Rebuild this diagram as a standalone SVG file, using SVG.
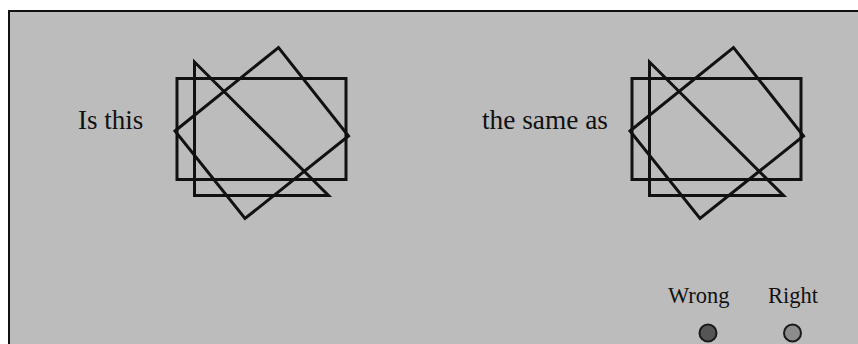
<svg xmlns="http://www.w3.org/2000/svg" width="858" height="344" viewBox="0 0 858 344">
<style>
.shape{fill:none;stroke:#111;stroke-width:3;stroke-linejoin:miter}
.lbl{font-family:"Liberation Serif","Times New Roman",serif;fill:#111}
.big{font-size:27px}
.small{font-size:22.5px}
.btn{stroke:#1a1a1a;stroke-width:2}
</style>
<rect x="0" y="0" width="858" height="344" fill="#ffffff"/>
<rect x="9" y="11" width="849" height="333" fill="#bcbcbc"/>
<path d="M9 344 V11 H858" fill="none" stroke="#111" stroke-width="2"/>
<g id="fig-left">
<rect class="shape" x="177" y="78.5" width="169" height="101"/>
<polygon class="shape" points="194.5,62 194.5,195.5 328.5,195.5"/>
<polygon class="shape" points="175,131 278.5,47.5 348.5,136 245,218.5"/>
</g>
<g id="fig-right">
<rect class="shape" x="632" y="78.5" width="169" height="101"/>
<polygon class="shape" points="649.5,62 649.5,195.5 783.5,195.5"/>
<polygon class="shape" points="630,131 733.5,47.5 803.5,136 700,218.5"/>
</g>
<g id="text-is-this"><text class="lbl big" x="78" y="129">Is this</text></g>
<g id="text-same-as"><text class="lbl big" x="482" y="129" textLength="126" lengthAdjust="spacingAndGlyphs">the same as</text></g>
<g id="btn-wrong">
<text class="lbl small" x="668" y="303">Wrong</text>
<circle class="btn" cx="708" cy="333" r="8.5" fill="#555555"/>
</g>
<g id="btn-right">
<text class="lbl small" x="768" y="303">Right</text>
<circle class="btn" cx="792.5" cy="333" r="8.5" fill="#8c8c8c"/>
</g>
<g id="connectors"/>
</svg>
